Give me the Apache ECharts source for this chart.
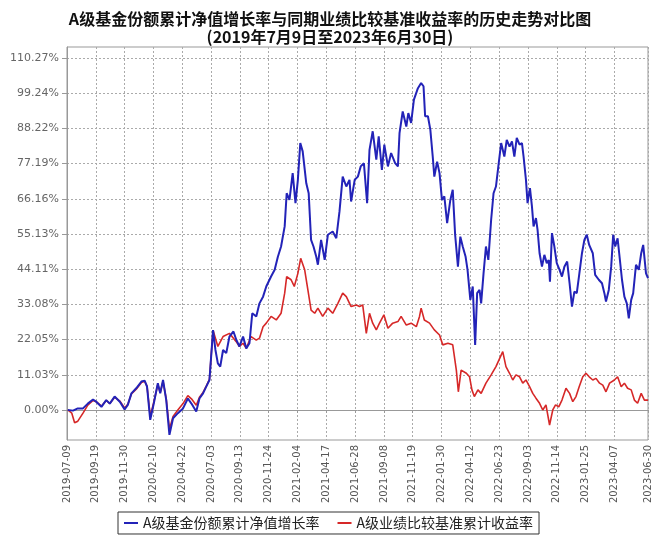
<!DOCTYPE html>
<html>
<head>
<meta charset="utf-8">
<script src="https://cdn.jsdelivr.net/npm/echarts@6/dist/echarts.min.js"></script>
<style>
  html, body { margin: 0; padding: 0; background: #fff; }
  #chart { width: 660px; height: 543px; }
</style>
</head>
<body>
<div id="chart"></div>
<script>
// 起始日期，x 轴按天计
const startDate = '2019-07-09'

// x 轴刻度标签
const xLabels = ['2019-07-09', '2019-09-19', '2019-11-30', '2020-02-10', '2020-04-22', '2020-07-03',
  '2020-09-13', '2020-11-24', '2021-02-04', '2021-04-17', '2021-06-28', '2021-09-08', '2021-11-19',
  '2022-01-30', '2022-04-12', '2022-06-23', '2022-09-03', '2022-11-14', '2023-01-25', '2023-04-07',
  '2023-06-30']

// y 轴刻度标签
const yTicks = [0, 11.03, 22.05, 33.08, 44.11, 55.13, 66.16, 77.19, 88.22, 99.24, 110.27]

const navName = 'A级基金份额累计净值增长率'
const benchName = 'A级业绩比较基准累计收益率'

// 净值增长率：距起始日天数 / 数值(%)
const navDays = [2, 15, 27, 40, 52, 65, 73, 86, 98, 107, 119, 132, 144, 152, 161, 173, 186, 194, 200, 208,
  217, 227, 233, 240, 248, 256, 265, 277, 290, 302, 311, 323, 331, 340, 348, 356, 365,
  371, 377, 383, 390, 398, 406, 416, 423, 431, 440, 448, 456, 463, 473, 481, 490, 498, 510, 519, 527,
  535, 544, 549, 556, 564, 571, 577, 583, 589, 598, 604, 610, 616, 623, 627, 635, 644, 652, 664, 673,
  681, 689, 698, 706, 710, 719, 727,
  734, 742, 750, 756, 764, 773, 779, 787, 793, 802, 810, 820, 827, 831, 839, 848, 853, 860, 867, 877,
  885, 891, 895, 902, 908, 914, 918, 925, 931, 937, 943, 950, 958, 964, 970, 977, 983, 989, 996, 1001,
  1008, 1014, 1020, 1025, 1031, 1035, 1041, 1047, 1053, 1060, 1066, 1072, 1078, 1085,
  1093, 1099, 1106, 1112, 1118, 1124, 1131, 1137, 1141, 1147, 1151, 1157, 1162, 1166, 1172, 1176, 1181,
  1187, 1193, 1199, 1204, 1207, 1212, 1218, 1224, 1231, 1237, 1243, 1250, 1256, 1262, 1268, 1274, 1280,
  1287, 1293, 1299, 1305, 1314, 1320, 1329, 1337, 1343, 1347, 1354, 1360, 1365, 1370, 1376, 1380, 1387,
  1393, 1399, 1404, 1410, 1415, 1422, 1429, 1435, 1440, 1447, 1452]
const navValues = [0, -0.2, 0.5, 0.5, 2, 3.3, 2.6, 1, 3.1, 2, 4.2, 2.6, 0.2, 1.6, 5.2, 6.8, 8.9, 9.2, 7.3, -3.1,
  2.1, 8.4, 5.2, 9.4, 3.1, -7.8, -2.6, -1, 0.5, 3.6, 2, -0.5, 3.6, 5.2, 7.3, 9.4, 25,
  18.8, 14.6, 13.6, 18.8, 17.8, 23, 24.6, 22, 19.9, 23, 19.3, 20.9, 30.3, 29.3, 33.4, 35.5, 38.7, 41.8, 43.9, 48,
  51.2, 57.5, 67.9, 65.8, 74.2, 64.8, 72.1, 83.6, 81, 71, 67.9, 53.3, 51.2, 48, 45.5, 53.3, 47, 54.9, 55.9, 53.8,
  62.2, 73.1, 70, 72.1, 65.3, 72.1, 73.1,
  76.3, 77.3, 64.8, 81.5, 87.3, 78.4, 85.7, 75.2, 83.1, 76.3, 80.5, 77.3, 76.3, 86.7, 93.5, 88.8, 93, 89.9, 97.2, 100.8,
  102.4, 101.4, 92, 92, 87.8, 79.4, 73.1, 77.8, 74.2, 65.8, 66.9, 58.5, 65.8, 69, 54.9, 44.9, 54.3, 51.2, 48.1, 43.9,
  34.5, 38.7, 20.4, 36.6, 37.6, 33.4, 42.8, 51.2, 47, 59.6, 67.9, 70, 76.3, 83.6,
  79.4, 84.6, 82.5, 84.1, 79.4, 85.2, 83.1, 83.6, 79.4, 72.1, 64.8, 69.5, 63.7, 57.5, 60.1, 56.4, 49.1,
  44.9, 48.6, 46, 47, 40.2, 55.4, 51.2, 46, 43.9, 41.8, 44.9, 46.5, 39.7, 32.4, 37.1, 36.6, 42.3,
  49.1, 53.3, 54.9, 51.7, 49.1, 42.3, 40.8, 39.7, 36.6, 34, 37.6, 44.9, 54.9, 51.2, 53.8, 49.1, 40.8,
  35.5, 33.4, 28.7, 34.5, 36.6, 45.5, 43.9, 49.1, 51.7, 42.8, 41.3]

// 业绩比较基准收益率：距起始日天数 / 数值(%)
const benchDays = [2, 12, 19, 27, 40, 52, 65, 73, 86, 98, 107, 119, 132, 144, 152, 161, 173, 186, 194, 200,
  208, 217, 227, 233, 240, 248, 256, 265, 277, 290, 302, 311, 323, 331, 340, 348, 356, 365,
  377, 390, 406, 423, 431, 440, 448, 460, 473, 481, 490, 498, 510, 523, 535, 544, 549, 560, 568, 577,
  584, 594, 602, 610, 619, 627, 639, 652, 664, 677, 689, 698, 710, 723,
  731, 739, 748, 756, 764, 773, 781, 792, 802, 814, 827, 835, 848, 860, 873, 881, 885, 893, 906, 918,
  931, 939, 952, 964, 973, 978, 985, 998, 1006, 1012, 1018, 1027, 1035, 1047, 1060, 1072, 1085,
  1089, 1097, 1106, 1114, 1122, 1131, 1139, 1147, 1156, 1164, 1172, 1181, 1189, 1197, 1206, 1214, 1221,
  1229, 1237, 1247, 1256, 1264, 1272, 1280, 1289, 1297, 1305, 1314, 1322, 1331, 1339, 1347, 1356, 1368,
  1376, 1385, 1393, 1401, 1410, 1418, 1426, 1435, 1443, 1452]
const benchValues = [0, -1, -4, -3.5, -1, 1.5, 3, 2.6, 1.2, 3, 2, 4, 2.8, 0.6, 1.8, 5, 6.5, 8.6, 9, 7.5,
  -2, 2.5, 8, 5.5, 9, 3.5, -6, -2, 0, 2, 4.5, 3.5, 1.5, 4, 5.5, 7.5, 9.6, 25,
  19.9, 23, 24, 21.4, 19.9, 20.9, 19.3, 23, 21.9, 22.5, 26.1, 27.2, 29.3, 28.2, 30.3, 36.6, 41.8, 40.8, 38.7, 42.8,
  47.5, 43.9, 37.6, 31.3, 30.3, 31.9, 29.3, 31.9, 30.3, 33.4, 36.6, 35.5, 32.4, 32.9,
  32.4, 32.9, 24, 30.3, 27.2, 25.1, 27.2, 29.8, 25.6, 27.2, 27.7, 29.3, 26.6, 27.2, 26.1, 29.3, 31.9, 28.2, 27.2, 25.1,
  23.5, 20.4, 20.9, 20.4, 12.5, 5.7, 12.5, 11.5, 10.4, 6.3, 4.2, 6.3, 5.2, 8.4, 11, 13.6, 17.2,
  18.3, 13.6, 11.5, 9.4, 11, 10.4, 8.4, 9.4, 7.3, 5.2, 3.7, 2.1, 0, 1.6, -4.7, 0, 1.6,
  1, 3.1, 6.8, 5.2, 2.6, 4.2, 7.3, 10.4, 11.5, 10.4, 9.4, 9.9, 8.4, 7.8, 5.7, 8.4, 9.4,
  10.4, 7.3, 8.4, 6.8, 6.3, 3.1, 2.1, 5.2, 3.1, 3.1]

const DAY = 86400000
const start = Date.parse(startDate)
function toDay(s) {
  return Math.round((Date.parse(s) - start) / DAY)
}
function dayLabel(d) {
  return new Date(start + d * DAY).toISOString().slice(0, 10)
}
const xTickDays = xLabels.map(toDay)

let chart = echarts.init(document.getElementById('chart'))
let option = {
  animation: false,
  backgroundColor: '#fff',
  textStyle: { fontFamily: 'DejaVu Sans' },
  title: {
    text: 'A级基金份额累计净值增长率与同期业绩比较基准收益率的历史走势对比图\n(2019年7月9日至2023年6月30日)',
    left: 'center',
    top: 5,
    textStyle: {
      fontFamily: 'Noto Sans CJK SC',
      fontSize: 16,
      fontWeight: 'bold',
      lineHeight: 18,
      color: '#111'
    }
  },
  legend: {
    data: [navName, benchName],
    left: 118,
    top: 512,
    icon: 'rect',
    itemWidth: 14,
    itemHeight: 2,
    itemGap: 18,
    padding: [4, 6, 4, 6],
    borderColor: '#333',
    borderWidth: 1,
    textStyle: {
      fontFamily: 'Noto Sans CJK SC',
      fontSize: 14,
      color: '#222'
    }
  },
  grid: {
    left: 67,
    right: 12,
    top: 47,
    bottom: 103,
    show: true,
    borderColor: '#999',
    borderWidth: 1
  },
  xAxis: {
    type: 'value',
    min: 0,
    max: xTickDays[xTickDays.length - 1],
    axisLine: { show: true, lineStyle: { color: '#999' } },
    axisTick: { show: true, length: 3, customValues: xTickDays, lineStyle: { color: '#999' } },
    axisLabel: {
      customValues: xTickDays,
      rotate: 90,
      margin: 5,
      fontSize: 10,
      color: '#555',
      fontFamily: 'DejaVu Sans',
      formatter: v => dayLabel(v)
    },
    splitLine: { show: true, lineStyle: { color: '#aaa', type: [2, 2], width: 1 } }
  },
  yAxis: {
    type: 'value',
    min: -9.4,
    max: 113.7,
    axisLine: { show: true, lineStyle: { color: '#999' } },
    axisTick: { show: true, length: 5, customValues: yTicks, lineStyle: { color: '#999' } },
    axisLabel: {
      customValues: yTicks,
      margin: 8,
      fontSize: 11,
      color: '#666',
      fontFamily: 'DejaVu Sans',
      formatter: v => v.toFixed(2) + '%'
    },
    splitLine: { show: true, lineStyle: { color: '#aaa', type: [2, 2], width: 1 } }
  },
  series: [
    {
      name: benchName,
      type: 'line',
      showSymbol: false,
      z: 2,
      data: benchDays.map((d, i) => [d, benchValues[i]]),
      itemStyle: { color: '#d62828' },
      lineStyle: { color: '#d62828', width: 1.6 }
    },
    {
      name: navName,
      type: 'line',
      showSymbol: false,
      z: 3,
      data: navDays.map((d, i) => [d, navValues[i]]),
      itemStyle: { color: '#2323b8' },
      lineStyle: { color: '#2323b8', width: 2 }
    }
  ]
}
chart.setOption(option)
</script>
</body>
</html>
